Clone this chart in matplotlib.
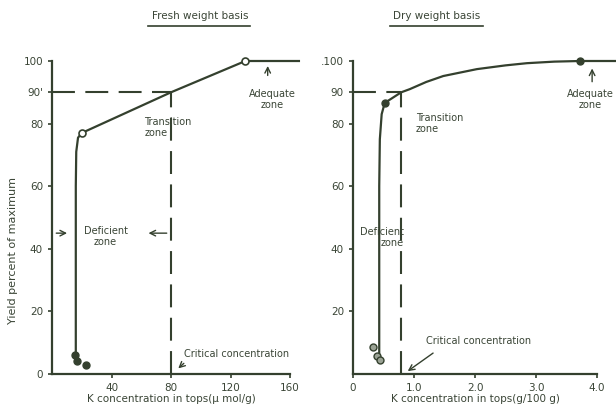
import matplotlib
matplotlib.use("Agg")
import matplotlib.pyplot as plt

# ---- data ----
fresh_curve_x = [16, 16, 16.3, 17.5, 20, 80, 130, 166]
fresh_curve_y = [5, 60, 71, 75.5, 77, 90, 100, 100]
fresh_open_x = [20, 130]
fresh_open_y = [77, 100]
fresh_dots_x = [15.4, 16.8, 22.8]
fresh_dots_y = [6, 4, 3]
fresh_critical = 80

dry_curve_x = [0.43, 0.43, 0.44, 0.47, 0.52, 0.79, 0.93, 1.2, 1.48, 2.03, 2.5, 2.85, 3.3, 3.72, 4.3]
dry_curve_y = [5, 60, 75, 83, 86.6, 90, 91, 93.3, 95.2, 97.4, 98.6, 99.3, 99.8, 100, 100]
dry_filled_x = [0.52, 3.72]
dry_filled_y = [86.6, 100]
dry_dots_x = [0.33, 0.39, 0.44]
dry_dots_y = [8.6, 5.7, 4.5]
dry_critical = 0.79

fresh_yticks = [0, 20, 40, 60, 80, 90, 100]
fresh_yticklabels = ["0", "20", "40", "60", "80", "90'", "100"]
fresh_xticks = [40, 80, 120, 160]
dry_yticks = [20, 40, 60, 80, 90, 100]
dry_yticklabels = ["20", "40", "60", "80", "90", ".100"]
dry_xticks = [0, 1, 2, 3, 4]
dry_xticklabels = ["0", "1.0", "2.0", "3.0", "4.0"]

C = "#34402e"
TC = "#3a4536"
plt.rcParams['font.family'] = ['DejaVu Sans']

fig = plt.figure(figsize=(6.16, 4.05), dpi=100)
W, H = 616, 405

def mkax(x0, x1):
    ax = fig.add_axes([x0 / W, 1 - 374 / H, (x1 - x0) / W, (374 - 61) / H])
    for s in ("top", "right"):
        ax.spines[s].set_visible(False)
    for s in ("left", "bottom"):
        ax.spines[s].set_color(C)
        ax.spines[s].set_linewidth(1.6)
    ax.tick_params(colors=C, labelcolor=TC, labelsize=7.5, length=3, width=1.2)
    ax.set_ylim(0, 100)
    return ax

dash = (0, (11, 5))

# ---- left panel ----
ax = mkax(52, 290)
ax.set_xlim(0, 160)
ax.set_yticks(fresh_yticks)
ax.set_yticklabels(fresh_yticklabels)
ax.set_xticks(fresh_xticks)
ax.plot(fresh_curve_x, fresh_curve_y, color=C, lw=1.6, clip_on=False, zorder=3)
ax.plot(fresh_open_x, fresh_open_y, 'o', mfc='white', mec=C, ms=5, mew=1.2, clip_on=False, zorder=4)
ax.plot(fresh_dots_x, fresh_dots_y, 'o', color=C, ms=5, clip_on=False, zorder=4)
ax.plot([0, fresh_critical], [90, 90], color=C, lw=1.5, linestyle=dash)
ax.plot([fresh_critical, fresh_critical], [0, 90], color=C, lw=1.5, linestyle=dash)
ax.text(62, 82, "Transition\nzone", color=TC, fontsize=7, ha='left', va='top', linespacing=1.1)
ax.text(148, 91, "Adequate\nzone", color=TC, fontsize=7, ha='center', va='top', linespacing=1.1)
ax.annotate("", xy=(145, 99.3), xytext=(145, 94.5),
            arrowprops=dict(arrowstyle='->', color=C, lw=1.0))
ax.text(36, 44, "Deficient\nzone", color=TC, fontsize=7, ha='center', va='center', linespacing=1.1)
ax.annotate("", xy=(12, 45), xytext=(1, 45),
            arrowprops=dict(arrowstyle='->', color=C, lw=1.0))
ax.annotate("", xy=(63, 45), xytext=(79, 45),
            arrowprops=dict(arrowstyle='->', color=C, lw=1.0))
ax.text(89, 6.4, "Critical concentration", color=TC, fontsize=7, ha='left', va='center')
ax.annotate("", xy=(83.5, 1.2), xytext=(90, 4),
            arrowprops=dict(arrowstyle='->', color=C, lw=1.0))
ax.set_xlabel("K concentration in tops(\u00b5 mol/g)", color=TC, fontsize=7.5, labelpad=1)
fig.text(13 / W, 1 - 250 / H, "Yield percent of maximum", color=TC, fontsize=8,
         rotation=90, ha='center', va='center')

# ---- right panel ----
ax2 = mkax(353, 597)
ax2.set_xlim(0, 4)
ax2.set_yticks(dry_yticks)
ax2.set_yticklabels(dry_yticklabels)
ax2.set_xticks(dry_xticks)
ax2.set_xticklabels(dry_xticklabels)
ax2.plot(dry_curve_x, dry_curve_y, color=C, lw=1.6, clip_on=False, zorder=3)
ax2.plot(dry_filled_x, dry_filled_y, 'o', color=C, ms=5, clip_on=False, zorder=4)
ax2.plot(dry_dots_x, dry_dots_y, 'o', mfc='#9aa294', mec=C, ms=5, mew=1.0, clip_on=False, zorder=4)
ax2.plot([0, dry_critical], [90, 90], color=C, lw=1.5, linestyle=dash)
ax2.plot([dry_critical, dry_critical], [0, 90], color=C, lw=1.5, linestyle=dash)
ax2.text(1.03, 83.4, "Transition\nzone", color=TC, fontsize=7, ha='left', va='top', linespacing=1.1)
ax2.text(3.89, 91, "Adequate\nzone", color=TC, fontsize=7, ha='center', va='top', linespacing=1.1)
ax2.annotate("", xy=(3.92, 98.5), xytext=(3.92, 92.5),
             arrowprops=dict(arrowstyle='->', color=C, lw=1.0))
ax2.text(0.84, 43.5, "Deficient\nzone", color=TC, fontsize=7, ha='right', va='center',
         multialignment='right', linespacing=1.1)
ax2.text(1.2, 10.5, "Critical concentration", color=TC, fontsize=7, ha='left', va='center')
ax2.annotate("", xy=(0.86, 0.4), xytext=(1.35, 7.2),
             arrowprops=dict(arrowstyle='->', color=C, lw=1.0))
ax2.set_xlabel("K concentration in tops(g/100 g)", color=TC, fontsize=7.5, labelpad=1)

# ---- titles with underline ----
fig.text(200 / W, 1 - 16 / H, "Fresh weight basis", color=TC, fontsize=7.5, ha='center', va='center')
fig.add_artist(plt.Line2D([148 / W, 250 / W], [1 - 26 / H, 1 - 26 / H], color=C, lw=1.2))
fig.text(437 / W, 1 - 16 / H, "Dry weight basis", color=TC, fontsize=7.5, ha='center', va='center')
fig.add_artist(plt.Line2D([390 / W, 483 / W], [1 - 26 / H, 1 - 26 / H], color=C, lw=1.2))

fig.savefig("out.png", dpi=100)
